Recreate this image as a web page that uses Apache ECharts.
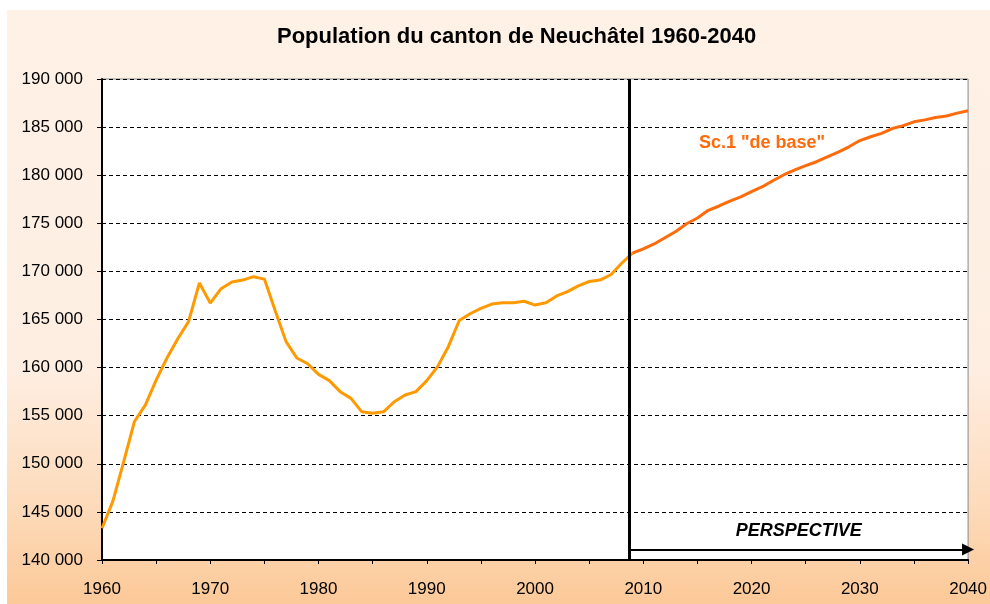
<!DOCTYPE html>
<html>
<head>
<meta charset="utf-8">
<script src="https://cdn.jsdelivr.net/npm/echarts@6/dist/echarts.min.js"></script>
<style>html,body{margin:0;padding:0;background:#fff}#c{width:990px;height:604px}</style>
</head>
<body>
<div id="c"></div>
<script>
const titleText = 'Population du canton de Neuchâtel 1960-2040';
const histYears = [1960,1961,1962,1963,1964,1965,1966,1967,1968,1969,1970,1971,1972,1973,1974,1975,1976,1977,1978,1979,1980,1981,1982,1983,1984,1985,1986,1987,1988,1989,1990,1991,1992,1993,1994,1995,1996,1997,1998,1999,2000,2001,2002,2003,2004,2005,2006,2007,2008,2009];
const histValues = [143300,146100,150200,154400,156100,158700,161000,163000,164800,168800,166700,168200,168900,169100,169450,169200,165900,162700,161000,160400,159300,158650,157500,156800,155400,155250,155400,156450,157150,157500,158650,160100,162200,164900,165600,166150,166600,166750,166750,166900,166500,166750,167450,167900,168500,168950,169100,169650,170850,171900];
const projYears = [2009,2010,2011,2012,2013,2014,2015,2016,2017,2018,2019,2020,2021,2022,2023,2024,2025,2026,2027,2028,2029,2030,2031,2032,2033,2034,2035,2036,2037,2038,2039,2040];
const projValues = [171900,172350,172850,173500,174150,174950,175550,176350,176800,177300,177750,178300,178800,179450,180050,180550,181000,181400,181900,182400,182950,183600,184000,184350,184850,185150,185550,185750,186000,186150,186450,186700];
const projLabel = 'Sc.1 "de base"';
const perspectiveLabel = 'PERSPECTIVE';
const perspectiveStart = 2008.7;
const yTicks = { min: 140000, max: 190000, step: 5000 };
const xTicks = { min: 1960, max: 2040, step: 5, labelStep: 10 };

const FONT = '"Liberation Sans", Arial, sans-serif';
const fmtThousands = v => String(v).replace(/\B(?=(\d{3})+(?!\d))/g, ' ');

const chart = echarts.init(document.getElementById('c'), null, { renderer: 'canvas' });
chart.setOption({
  backgroundColor: '#ffffff',
  animation: false,
  graphic: [
    {
      type: 'rect', z: -10, silent: true,
      shape: { x: 7, y: 10, width: 983, height: 594 },
      style: {
        fill: new echarts.graphic.LinearGradient(0, 0, 0, 1, [
          { offset: 0, color: '#FEF1E6' },
          { offset: 0.6, color: '#FEEEE2' },
          { offset: 0.82, color: '#FDDCBD' },
          { offset: 1, color: '#FCC998' }
        ])
      }
    },
    {
      type: 'text', left: 699, top: 134, z: 20, silent: true,
      style: { text: projLabel, fill: '#FF6A0A', font: 'bold 18px ' + FONT }
    }
  ],
  title: {
    text: titleText,
    left: 277, top: 26, padding: 0,
    textStyle: { fontFamily: FONT, fontWeight: 'bold', fontSize: 22, color: '#000' }
  },
  grid: {
    left: 102, right: 20, top: 79, bottom: 44,
    show: true, backgroundColor: '#ffffff', borderColor: '#888888', borderWidth: 1
  },
  xAxis: {
    type: 'value', min: xTicks.min, max: xTicks.max, interval: xTicks.step,
    axisLine: { show: true, onZero: false, lineStyle: { color: '#000', width: 2 } },
    axisTick: { show: true, length: 4, lineStyle: { color: '#000', width: 1 } },
    splitLine: { show: false },
    axisLabel: {
      margin: 21, fontFamily: FONT, fontSize: 17, color: '#000',
      formatter: v => (v % xTicks.labelStep === 0 ? String(v) : '')
    }
  },
  yAxis: {
    type: 'value', min: yTicks.min, max: yTicks.max, interval: yTicks.step,
    axisLine: { show: true, lineStyle: { color: '#000', width: 2 } },
    axisTick: { show: true, length: 5, lineStyle: { color: '#000', width: 1 } },
    splitLine: { show: true, lineStyle: { color: '#000', width: 1.2, type: [4, 3] } },
    axisLabel: { margin: 19, fontFamily: FONT, fontSize: 17, color: '#000', formatter: fmtThousands }
  },
  series: [
    {
      type: 'line', name: 'hist', showSymbol: false, z: 3,
      data: histYears.map((y, i) => [y, histValues[i]]),
      lineStyle: { color: '#FF9900', width: 3 },
      itemStyle: { color: '#FF9900' }
    },
    {
      type: 'line', name: 'proj', showSymbol: false, z: 4,
      data: projYears.map((y, i) => [y, projValues[i]]),
      lineStyle: { color: '#FF6A0A', width: 3 },
      itemStyle: { color: '#FF6A0A' },
      markLine: {
        silent: true, animation: false,
        data: [
          [
            { coord: [perspectiveStart, yTicks.min], symbol: 'none' },
            { coord: [perspectiveStart, yTicks.max], symbol: 'none' }
          ],
          [
            { coord: [perspectiveStart, 141100], symbol: 'none',
              lineStyle: { color: '#000', width: 2, type: 'solid' },
              label: { show: true, position: 'insideMiddleTop', distance: 9, formatter: perspectiveLabel,
                       fontFamily: FONT, fontSize: 18, fontWeight: 'bold', fontStyle: 'italic', color: '#000' } },
            { coord: [xTicks.max, 141100], symbol: 'triangle', symbolSize: 12 }
          ]
        ],
        symbol: 'none',
        lineStyle: { color: '#000', width: 3, type: 'solid' },
        label: { show: false }
      }
    }
  ]
});
</script>
</body>
</html>
